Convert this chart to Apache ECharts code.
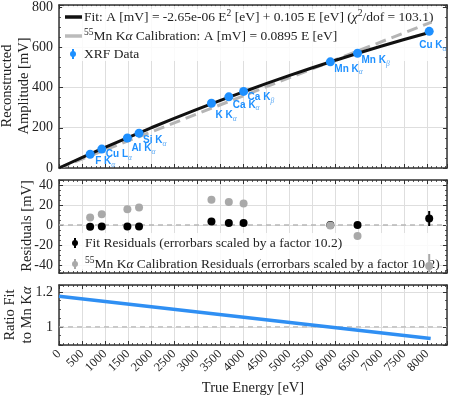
<!DOCTYPE html>
<html><head><meta charset="utf-8">
<script src="https://cdn.jsdelivr.net/npm/echarts@6/dist/echarts.min.js"></script>
<style>html,body{margin:0;padding:0;background:#fff}#c{width:449px;height:399px}</style>
</head><body><div id="c"></div>
<script>
// ---------- data ----------
const lineEnergies = [677, 930, 1487, 1740, 3314, 3692, 4013, 5899, 6490, 8048];
const lineNames = ['F K', 'Cu L', 'Al K', 'Si K', 'K K', 'Ca K', 'Ca K', 'Mn K', 'Mn K', 'Cu K'];
const lineSubs = ['α', 'α', 'α', 'α', 'α', 'α', 'β', 'α', 'β', 'α'];
const amplitudes = [68.2, 93.9, 148.8, 173.2, 321.9, 353.5, 380.7, 527.5, 570.0, 679.0];
const fitResiduals = [-1.7, -1.6, -1.5, -1.5, 3.5, 2.0, 2.0, 0.0, 0.0, 6.5];
const fitResidualErrors = [0.8, 0.8, 0.8, 0.8, 1.0, 1.0, 1.0, 0.8, 1.5, 7.5];
const calibResiduals = [7.6, 10.7, 15.7, 17.5, 25.3, 23.1, 21.5, -0.5, -10.9, -41.0];
const calibResidualErrors = [0.8, 0.8, 0.8, 0.8, 1.0, 1.0, 1.0, 0.8, 1.5, 12.0];
const fitCurveE = [0, 1000, 2000, 3000, 4000, 5000, 6000, 7000, 8050];
const fitCurveA = [0, 102.4, 199.4, 291.2, 377.6, 458.8, 534.6, 605.2, 673.5];
const calibLineE = [0, 8100];
const calibLineA = [0, 725];
const ratioE = [0, 8080];
const ratioValues = [1.175, 0.933];

// ---------- style / layout ----------
const BLUE = '#1e90ff', GRAY = '#a9a9a9', FRAME = '#333';
const SERIF = '"Liberation Serif", "DejaVu Serif", serif';
const SANS = '"Liberation Sans", Arial, sans-serif';
const labelNudges = [[5,7],[4,5],[4,10],[4,7],[4,12],[4,8],[4,6],[4,7],[4,7],[-10,14]];
const XMAX = 8435;

const grids = [
  {left: 59, right: 2, top: 3, height: 165},
  {left: 59, right: 2, top: 180, height: 93},
  {left: 59, right: 2, top: 285, height: 60}
];
const yRanges = [[0, 810], [-48, 45], [0.896, 1.24]];

const tickStyle = {show: true, inside: true, length: 4, lineStyle: {color: FRAME, width: 1}};
const minorStyle = n => ({show: true, splitNumber: n, length: 2, lineStyle: {color: FRAME, width: 0.8}});
const lineStyleFrame = {show: true, onZero: false, lineStyle: {color: FRAME, width: 1.5}};

const xAxes = [], yAxes = [];
grids.forEach((g, i) => {
  xAxes.push({
    type: 'value', gridIndex: i, min: 0, max: XMAX, interval: 500, position: 'bottom',
    axisLine: lineStyleFrame, axisTick: tickStyle, minorTick: minorStyle(5),
    splitLine: {show: true, lineStyle: {color: '#dedede', width: 1}},
    axisLabel: i === 2 ? {show: true, rotate: 45, fontFamily: SERIF, fontSize: 12.5, color: '#222', margin: 7,
      showMaxLabel: false, formatter: v => String(Math.round(v))} : {show: false}
  });
  xAxes.push({
    type: 'value', gridIndex: i, min: 0, max: XMAX, interval: 500, position: 'top',
    axisLine: lineStyleFrame, axisTick: tickStyle, minorTick: minorStyle(5),
    splitLine: {show: false}, axisLabel: {show: false}
  });
  const yBase = {type: 'value', gridIndex: i, min: yRanges[i][0], max: yRanges[i][1]};
  if (i === 0) yBase.interval = 200;
  if (i === 1) yBase.splitNumber = 5;
  if (i === 2) yBase.splitNumber = 2;
  yAxes.push(Object.assign({}, yBase, {
    position: 'left', axisLine: lineStyleFrame, axisTick: tickStyle, minorTick: minorStyle(4),
    splitLine: {show: true, lineStyle: {color: '#dedede', width: 1}},
    axisLabel: {show: true, fontFamily: SERIF, fontSize: 14, color: '#222', margin: 6,
      showMinLabel: i === 0, showMaxLabel: false, formatter: v => String(+v.toFixed(2))}
  }));
  yAxes.push(Object.assign({}, yBase, {
    position: 'right', axisLine: lineStyleFrame, axisTick: tickStyle, minorTick: minorStyle(4),
    splitLine: {show: false}, axisLabel: {show: false}
  }));
});

function zip(a, b) { return a.map((v, i) => [v, b[i]]); }

function errorBars(name, gi, xs, ys, errs, color, width, z) {
  return {
    type: 'custom', name, xAxisIndex: gi * 2, yAxisIndex: gi * 2, z, clip: true, silent: true,
    data: xs.map((x, i) => [x, ys[i] - errs[i], ys[i] + errs[i]]),
    renderItem: (params, api) => {
      const lo = api.coord([api.value(0), api.value(1)]);
      const hi = api.coord([api.value(0), api.value(2)]);
      return {type: 'line', shape: {x1: lo[0], y1: lo[1], x2: hi[0], y2: hi[1]},
        style: {stroke: color, lineWidth: width}};
    }
  };
}

const xrfData = lineEnergies.map((e, i) => ({
  value: [e, amplitudes[i]],
  label: {position: [4.5 + labelNudges[i][0], 4.5 + labelNudges[i][1]]}
}));

const series = [
  {type: 'line', name: 'calib', xAxisIndex: 0, yAxisIndex: 0, data: zip(calibLineE, calibLineA),
   showSymbol: false, symbol: 'none', z: 3, lineStyle: {color: '#b5b5b5', width: 3, type: [11, 6]}},
  {type: 'line', name: 'fit', xAxisIndex: 0, yAxisIndex: 0, data: zip(fitCurveE, fitCurveA),
   showSymbol: false, symbol: 'none', smooth: true, z: 4, lineStyle: {color: '#111', width: 3}},
  {type: 'scatter', name: 'XRF', xAxisIndex: 0, yAxisIndex: 0, data: xrfData, symbolSize: 9, z: 5,
   itemStyle: {color: BLUE, opacity: 1},
   label: {show: true, align: 'left', verticalAlign: 'middle',
     formatter: p => `{m|${lineNames[p.dataIndex]}}{s|${lineSubs[p.dataIndex]}}`,
     rich: {
       m: {fontFamily: SANS, fontSize: 10, fontWeight: 'bold', color: BLUE, lineHeight: 15, verticalAlign: 'middle'},
       s: {fontFamily: SERIF, fontSize: 7.5, fontStyle: 'italic', color: '#5aa9f5', lineHeight: 15, verticalAlign: 'bottom'}
     }}},
  // residuals
  {type: 'line', name: 'zero', xAxisIndex: 2, yAxisIndex: 2, data: [[0, 0], [XMAX, 0]], symbol: 'none', z: 2,
   lineStyle: {color: '#b8b8b8', width: 1.3, type: [5, 4]}},
  errorBars('fitErr', 1, lineEnergies, fitResiduals, fitResidualErrors, '#000', 2, 5),
  {type: 'scatter', name: 'fitRes', xAxisIndex: 2, yAxisIndex: 2, data: zip(lineEnergies, fitResiduals),
   symbolSize: 8, z: 6, itemStyle: {color: '#000', opacity: 1}},
  errorBars('calErr', 1, lineEnergies, calibResiduals, calibResidualErrors, GRAY, 2, 7),
  {type: 'scatter', name: 'calRes', xAxisIndex: 2, yAxisIndex: 2, data: zip(lineEnergies, calibResiduals),
   symbolSize: 8, z: 8, itemStyle: {color: GRAY, opacity: 1}},
  // ratio
  {type: 'line', name: 'one', xAxisIndex: 4, yAxisIndex: 4, data: [[0, 1], [XMAX, 1]], symbol: 'none', z: 2,
   lineStyle: {color: '#b8b8b8', width: 1.3, type: [5, 4]}},
  {type: 'line', name: 'ratio', xAxisIndex: 4, yAxisIndex: 4, data: zip(ratioE, ratioValues), symbol: 'none', z: 4,
   lineStyle: {color: '#2f8ff3', width: 3.5}}
];

const T = (x, y, rich, text, extra) => Object.assign({
  type: 'text', x, y, z: 3,
  style: {text, rich, fontFamily: SERIF, fontSize: 13.5, fill: '#222', verticalAlign: 'middle', align: 'left'}
}, extra || {});

const richMain = {
  n: {fontFamily: SERIF, fontSize: 13.5, fill: '#222', lineHeight: 18, verticalAlign: 'middle'},
  i: {fontFamily: SERIF, fontSize: 13.5, fontStyle: 'italic', fill: '#222', lineHeight: 18, verticalAlign: 'middle'},
  sup: {fontFamily: SERIF, fontSize: 9.5, fill: '#222', lineHeight: 18, verticalAlign: 'top'}
};

const graphic = [
  // top legend
  {type: 'rect', shape: {x: 62, y: 6, width: 380, height: 55}, style: {fill: 'rgba(255,255,255,0.85)'}, z: 1},
  {type: 'line', shape: {x1: 65, y1: 17, x2: 82, y2: 17}, style: {stroke: '#111', lineWidth: 3.5}, z: 3},
  T(84, 17, richMain, '{n|Fit: A [mV] = -2.65e-06 E}{sup|2}{n| [eV] + 0.105 E [eV] (}{i|χ}{sup|2}{n|/dof = 103.1)}'),
  {type: 'line', shape: {x1: 65, y1: 36, x2: 82, y2: 36}, style: {stroke: '#bbb', lineWidth: 3.5}, z: 3},
  T(84, 36, richMain, '{sup|55}{n|Mn K}{i|α}{n| Calibration: A [mV] = 0.0895 E [eV]}'),
  {type: 'line', shape: {x1: 73, y1: 49, x2: 73, y2: 59}, style: {stroke: BLUE, lineWidth: 2}, z: 3},
  {type: 'circle', shape: {cx: 73, cy: 54, r: 3}, style: {fill: BLUE}, z: 3},
  T(84, 54, richMain, '{n|XRF Data}'),
  // residual legend
  {type: 'rect', shape: {x: 62, y: 233, width: 378, height: 38}, style: {fill: 'rgba(255,255,255,0.85)'}, z: 1},
  {type: 'line', shape: {x1: 75, y1: 238, x2: 75, y2: 248}, style: {stroke: '#000', lineWidth: 2}, z: 3},
  {type: 'circle', shape: {cx: 75, cy: 243, r: 3}, style: {fill: '#000'}, z: 3},
  T(85, 243, richMain, '{n|Fit Residuals (errorbars scaled by a factor 10.2)}'),
  {type: 'line', shape: {x1: 75, y1: 259, x2: 75, y2: 269}, style: {stroke: GRAY, lineWidth: 2}, z: 3},
  {type: 'circle', shape: {cx: 75, cy: 264, r: 3}, style: {fill: GRAY}, z: 3},
  T(85, 264, richMain, '{sup|55}{n|Mn K}{i|α}{n| Calibration Residuals (errorbars scaled by a factor 10.2)}'),
  // axis titles
  {type: 'text', x: 16, y: 86, rotation: Math.PI / 2, z: 3,
   style: {text: 'Reconstructed\nAmplitude [mV]', fontFamily: SERIF, fontSize: 14.5, lineHeight: 17, fill: '#222', align: 'center', verticalAlign: 'middle'}},
  {type: 'text', x: 27, y: 226, rotation: Math.PI / 2, z: 3,
   style: {text: 'Residuals [mV]', fontFamily: SERIF, fontSize: 14.5, fill: '#222', align: 'center', verticalAlign: 'middle'}},
  {type: 'text', x: 19, y: 315, rotation: Math.PI / 2, z: 3,
   style: {text: '{n|Ratio Fit}\n{n|to Mn K}{i|α}', rich: {
     n: {fontFamily: SERIF, fontSize: 14.5, fill: '#222', lineHeight: 17},
     i: {fontFamily: SERIF, fontSize: 14.5, fontStyle: 'italic', fill: '#222', lineHeight: 17}},
     align: 'center', verticalAlign: 'middle'}},
  {type: 'text', x: 253, y: 388, z: 3,
   style: {text: 'True Energy [eV]', fontFamily: SERIF, fontSize: 14.5, fill: '#222', align: 'center', verticalAlign: 'middle'}}
];

const chart = echarts.init(document.getElementById('c'), null, {renderer: 'canvas'});
chart.setOption({
  animation: false, backgroundColor: '#fff',
  grid: grids, xAxis: xAxes, yAxis: yAxes, series, graphic
});
</script></body></html>
